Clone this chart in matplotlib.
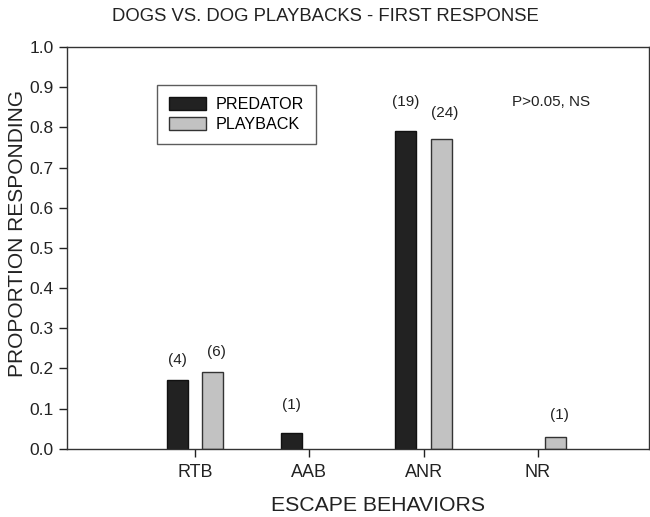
import matplotlib
matplotlib.use("Agg")
import matplotlib.pyplot as plt
import numpy as np

plt.rcParams['font.family'] = ['Liberation Sans', 'DejaVu Sans']

categories = ["RTB", "AAB", "ANR", "NR"]
predator = [0.17, 0.04, 0.79, 0.0]
playback = [0.19, 0.0, 0.77, 0.03]
pred_labels = ["(4)", "(1)", "(19)", ""]
play_labels = ["(6)", "", "(24)", "(1)"]
pred_label_y = [0.22, 0.11, 0.863, None]
play_label_y = [0.24, None, 0.836, 0.085]

fig = plt.figure(figsize=(6.5, 5.17), dpi=100)
ax = fig.add_axes([0.103, 0.132, 0.895, 0.777])

x = np.arange(len(categories))
w = 0.185
off = 0.155
b1 = ax.bar(x - off, predator, w, color="#222222", edgecolor="#111111", linewidth=1.0,
            label="PREDATOR")
b2 = ax.bar(x + off, playback, w, color="#c2c2c2", edgecolor="#333333", linewidth=1.0,
            label="PLAYBACK")
for cont, vals in ((b1, predator), (b2, playback)):
    for p, v in zip(cont.patches, vals):
        if v == 0:
            p.set_visible(False)

for i in range(len(categories)):
    if pred_labels[i]:
        ax.text(x[i] - off, pred_label_y[i], pred_labels[i], ha="center", va="center",
                fontsize=11, color="#222222")
    if play_labels[i]:
        ax.text(x[i] + off + 0.03, play_label_y[i], play_labels[i], ha="center", va="center",
                fontsize=11, color="#222222")

ax.text(3.12, 0.862, "P>0.05, NS", ha="center", va="center", fontsize=11, color="#222222")

ax.set_xlim(-1.12, 3.97)
ax.set_ylim(0, 1.0)
ax.set_yticks(np.arange(0, 1.01, 0.1))
ax.set_yticklabels([f"{v:.1f}" for v in np.arange(0, 1.01, 0.1)])
ax.set_xticks(x)
ax.set_xticklabels(categories)
ax.tick_params(axis="both", direction="out", length=6, width=1, colors="#222222")
ax.tick_params(axis="y", labelsize=12.5)
ax.tick_params(axis="x", labelsize=13, pad=5)
for s in ax.spines.values():
    s.set_linewidth(1.0)
    s.set_color("#333333")

ax.set_xlabel("ESCAPE BEHAVIORS", fontsize=15.3, color="#222222")
ax.xaxis.set_label_coords(0.534, -0.118)
ax.set_ylabel("PROPORTION RESPONDING", fontsize=15, color="#222222")
ax.yaxis.set_label_coords(-0.068, 0.537)
fig.suptitle("DOGS VS. DOG PLAYBACKS - FIRST RESPONSE", fontsize=13.3, color="#222222", y=0.985)

leg = ax.legend(loc="upper left", bbox_to_anchor=(0.155, 0.905), fontsize=11.6, frameon=True,
                fancybox=False, edgecolor="#333333", handlelength=2.3, handleheight=0.85,
                borderpad=0.75, labelspacing=0.3, handletextpad=0.6, borderaxespad=0)
leg.get_frame().set_linewidth(1.0)

fig.savefig("out.png", dpi=100)
